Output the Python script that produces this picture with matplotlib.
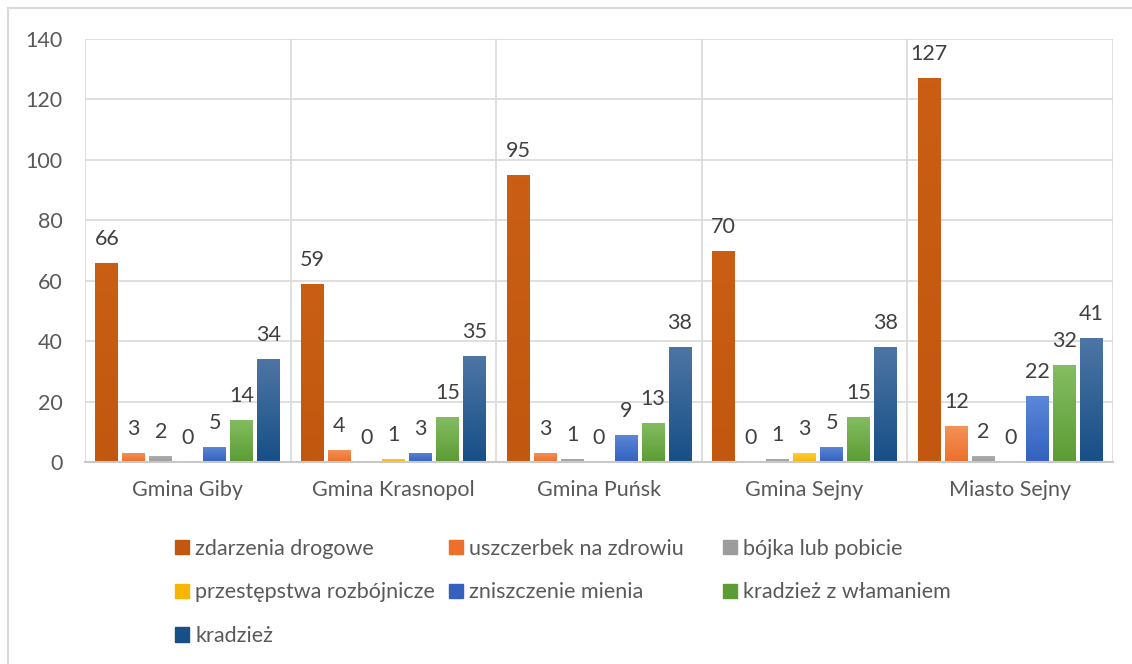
import numpy as np
import matplotlib.pyplot as plt
from matplotlib.colors import LinearSegmentedColormap
from matplotlib.lines import Line2D
from matplotlib.patches import Patch

plt.rcParams['font.family'] = ['Lato', 'DejaVu Sans']

gminy = ['Gmina Giby', 'Gmina Krasnopol', 'Gmina Puńsk', 'Gmina Sejny', 'Miasto Sejny']
kategorie = ['zdarzenia drogowe', 'uszczerbek na zdrowiu', 'bójka lub pobicie',
             'przestępstwa rozbójnicze', 'zniszczenie mienia', 'kradzież z włamaniem', 'kradzież']

zdarzenia = [66, 59, 95, 70, 127]
uszczerbek = [3, 4, 3, 0, 12]
bojka = [2, 0, 1, 1, 2]
rozboj = [0, 1, 0, 3, 0]
zniszczenie = [5, 3, 9, 5, 22]
wlamanie = [14, 15, 13, 15, 32]
kradziez = [34, 35, 38, 38, 41]
serie = [zdarzenia, uszczerbek, bojka, rozboj, zniszczenie, wlamanie, kradziez]

# kolor gora / dol (gradient jak w Excelu)
kolory = [('#C95E14', '#C2570F'),
          ('#F4925A', '#EC7028'),
          ('#B0B0B0', '#9C9C9C'),
          ('#FFD23A', '#F7B500'),
          ('#5B88D8', '#3461BE'),
          ('#84BD62', '#5C9C34'),
          ('#4D75A4', '#174F87')]

szary = '#595959'
fs = 15.5
fig = plt.figure(figsize=(11.32, 6.64), dpi=100)
ax = fig.add_axes([85/1132, 202/664, 1028/1132, 423/664])

x = np.arange(len(gminy))
krok = 27/205.6
szer = 23/205.6

for i, (dane, (gora, dol)) in enumerate(zip(serie, kolory)):
    cmap = LinearSegmentedColormap.from_list('g%d' % i, [dol, gora])
    bary = ax.bar(x + (i - 3)*krok, dane, szer, color=dol, zorder=3)
    for b in bary:
        if b.get_height() <= 0:
            continue
        grad = np.linspace(0, 1, 64).reshape(-1, 1)
        im = ax.imshow(grad, cmap=cmap, origin='lower', aspect='auto', zorder=3.5,
                       extent=(b.get_x(), b.get_x() + b.get_width(), 0, b.get_height()))
        im.set_clip_path(b)
    ax.bar_label(bary, padding=10, fontsize=fs, color='#404040', zorder=4)

ax.set_xlim(-0.5, 4.5)
ax.set_ylim(0, 140)
ax.set_yticks(range(0, 141, 20))
ax.set_xticks(x)
ax.set_xticklabels(gminy)
ax.set_xticks(np.arange(-0.5, 5, 1), minor=True)
ax.grid(True, axis='y', color='#D9D9D9', lw=1.2, zorder=0)
ax.grid(True, axis='x', which='minor', color='#D9D9D9', lw=1.2, zorder=0)
for s in ['top', 'right', 'left']:
    ax.spines[s].set_visible(False)
ax.spines['bottom'].set_color('#C8C8C8')
ax.spines['bottom'].set_linewidth(1.5)
ax.spines['bottom'].set_zorder(5)
ax.tick_params(axis='both', which='both', length=0, labelsize=fs, labelcolor=szary)
ax.tick_params(axis='y', pad=16)
ax.tick_params(axis='x', pad=13)

# legenda w trzech kolumnach (kolejnosc wierszami jak w Excelu)
uchwyty = [Patch(color=k[1]) for k in kolory]
kolumny = [[0, 3, 6], [1, 4], [2, 5]]
for c, idx in enumerate(kolumny):
    leg = fig.legend([uchwyty[j] for j in idx], [kategorie[j] for j in idx],
                     loc='upper left', bbox_to_anchor=((164 + 274*c)/1132, 1 - 528/664),
                     frameon=False, fontsize=fs, labelcolor=szary,
                     handlelength=0.66, handleheight=0.66, handletextpad=0.3,
                     labelspacing=1.1, borderpad=0)

# ramka wykresu
fig.add_artist(Line2D([8/1132, 8/1132], [0, 1 - 8/664], color='#D9D9D9', lw=1.5))
fig.add_artist(Line2D([8/1132, 1], [1 - 8/664, 1 - 8/664], color='#D9D9D9', lw=1.5))

fig.savefig('out.png', dpi=100)
